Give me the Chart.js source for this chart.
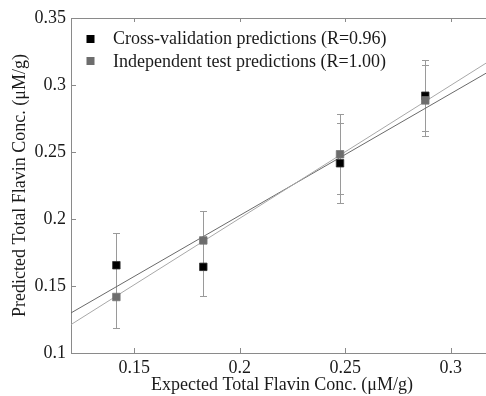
<!DOCTYPE html>
<html>
<head>
<meta charset="utf-8">
<script src="https://cdn.jsdelivr.net/npm/chart.js@4.4.1/dist/chart.umd.min.js"></script>
<style>
  html, body { margin: 0; padding: 0; background: #fff; overflow: hidden; }
  #wrap { width: 500px; height: 396px; }
</style>
</head>
<body>
<div id="wrap"><canvas id="c" width="500" height="396"></canvas></div>
<script>
// Expected vs. predicted total flavin concentration (µM/g)
const expected      = [0.1415, 0.1827, 0.2475, 0.2879];
const cvPredicted   = [0.1655, 0.1643, 0.2416, 0.2920];
const cvError       = [0.0240, 0.0220, 0.0300, 0.0264];
const testPredicted = [0.1418, 0.1840, 0.2483, 0.2885];
const testError     = [0.0230, 0.0220, 0.0297, 0.0265];

// Regression lines, evaluated at the ends of the x range
const fitX    = [0.12, 0.32];
const cvFit   = [0.1299, 0.3118];
const testFit = [0.1212, 0.3196];

const xTicks = [0.15, 0.2, 0.25, 0.3];
const yTicks = [0.1, 0.15, 0.2, 0.25, 0.3, 0.35];

const labels = ['Cross-validation predictions (R=0.96)', 'Independent test predictions (R=1.00)'];

const FONT = "'Liberation Serif', 'DejaVu Serif', serif";
const TEXT = '#1a1a1a';
const AXIS = '#8a8a8a';
const CV_COLOR = '#000000';
const TEST_COLOR = '#6d6d6d';

const toPoints = (xs, ys) => xs.map((x, i) => ({ x, y: ys[i] }));

// Vertical error bars with small caps, drawn beneath the markers
const errorBars = {
  id: 'errorBars',
  beforeDatasetsDraw(chart) {
    const { ctx, scales: { x, y } } = chart;
    ctx.save();
    ctx.strokeStyle = '#9a9a9a';
    ctx.lineWidth = 1;
    const series = [[cvPredicted, cvError], [testPredicted, testError]];
    series.forEach(([vals, errs]) => {
      vals.forEach((v, i) => {
        const px = Math.round(x.getPixelForValue(expected[i])) + 0.5;
        const top = Math.round(y.getPixelForValue(v + errs[i])) + 0.5;
        const bot = Math.round(y.getPixelForValue(v - errs[i])) + 0.5;
        ctx.beginPath();
        ctx.moveTo(px, top); ctx.lineTo(px, bot);
        ctx.moveTo(px - 3.5, top); ctx.lineTo(px + 3.5, top);
        ctx.moveTo(px - 3.5, bot); ctx.lineTo(px + 3.5, bot);
        ctx.stroke();
      });
    });
    ctx.restore();
  }
};

// Frame top edge and inward-pointing tick marks
const frameTicks = {
  id: 'frameTicks',
  afterDraw(chart) {
    const { ctx, chartArea: a, scales: { x, y } } = chart;
    ctx.save();
    ctx.strokeStyle = AXIS;
    ctx.lineWidth = 1;
    ctx.beginPath();
    ctx.moveTo(a.left, Math.round(a.top) + 0.5);
    ctx.lineTo(a.right, Math.round(a.top) + 0.5);
    xTicks.forEach(v => {
      const px = Math.round(x.getPixelForValue(v)) + 0.5;
      ctx.moveTo(px, a.bottom); ctx.lineTo(px, a.bottom - 5);
      ctx.moveTo(px, a.top); ctx.lineTo(px, a.top + 4);
    });
    yTicks.forEach(v => {
      const py = Math.round(y.getPixelForValue(v)) + 0.5;
      ctx.moveTo(a.left, py); ctx.lineTo(a.left + 5, py);
    });
    ctx.stroke();
    ctx.restore();
  }
};

// Legend inside the plot area, upper left
const insideLegend = {
  id: 'insideLegend',
  afterDraw(chart) {
    const { ctx } = chart;
    const colors = [CV_COLOR, TEST_COLOR];
    ctx.save();
    ctx.font = '18px ' + FONT;
    ctx.textBaseline = 'middle';
    ctx.fillStyle = TEXT;
    labels.forEach((t, i) => {
      const cy = 38.5 + i * 22.7;
      ctx.fillStyle = colors[i];
      ctx.fillRect(86.5, Math.round(cy - 4), 8, 8);
      ctx.fillStyle = TEXT;
      ctx.fillText(t, 113, cy + 1);
    });
    ctx.restore();
  }
};

new Chart(document.getElementById('c'), {
  type: 'scatter',
  data: {
    datasets: [
      {
        label: labels[0],
        data: toPoints(expected, cvPredicted),
        pointStyle: 'rect',
        pointRadius: 5.3,
        backgroundColor: CV_COLOR,
        borderColor: '#333',
        borderWidth: 0.8,
        order: 2
      },
      {
        label: labels[1],
        data: toPoints(expected, testPredicted),
        pointStyle: 'rect',
        pointRadius: 5.3,
        backgroundColor: TEST_COLOR,
        borderColor: '#777',
        borderWidth: 0.8,
        order: 1
      },
      {
        type: 'line',
        label: 'cv fit',
        data: toPoints(fitX, cvFit),
        borderColor: '#6a6a6a',
        borderWidth: 1,
        pointRadius: 0,
        fill: false,
        order: 4
      },
      {
        type: 'line',
        label: 'test fit',
        data: toPoints(fitX, testFit),
        borderColor: '#a8a8a8',
        borderWidth: 1,
        pointRadius: 0,
        fill: false,
        order: 3
      }
    ]
  },
  options: {
    responsive: false,
    animation: false,
    events: [],
    layout: { padding: { top: 18, right: 7, left: 0, bottom: 0 } },
    plugins: {
      legend: { display: false },
      tooltip: { enabled: false }
    },
    scales: {
      x: {
        type: 'linear',
        min: 0.12,
        max: 0.32,
        afterBuildTicks: s => { s.ticks = xTicks.map(v => ({ value: v })); },
        afterFit: s => { s.height = 43; },
        grid: { display: false, drawTicks: false },
        border: { display: true, color: AXIS, width: 1 },
        ticks: {
          padding: 4,
          color: TEXT,
          font: { family: FONT, size: 18 },
          maxRotation: 0,
          callback: v => String(v)
        },
        title: {
          display: true,
          text: 'Expected Total Flavin Conc. (μM/g)',
          color: TEXT,
          font: { family: FONT, size: 18 },
          padding: { top: 0, bottom: 0 }
        }
      },
      y: {
        type: 'linear',
        min: 0.1,
        max: 0.35,
        afterBuildTicks: s => { s.ticks = yTicks.map(v => ({ value: v })); },
        afterFit: s => { s.width = 71; },
        grid: { display: false, drawTicks: false },
        border: { display: true, color: AXIS, width: 1 },
        ticks: {
          padding: 5,
          color: TEXT,
          font: { family: FONT, size: 18 },
          callback: v => String(v)
        },
        title: {
          display: true,
          text: 'Predicted Total Flavin Conc. (μM/g)',
          color: TEXT,
          font: { family: FONT, size: 18 },
          padding: { top: 9, bottom: 0 }
        }
      }
    }
  },
  plugins: [errorBars, frameTicks, insideLegend]
});
</script>
</body>
</html>
